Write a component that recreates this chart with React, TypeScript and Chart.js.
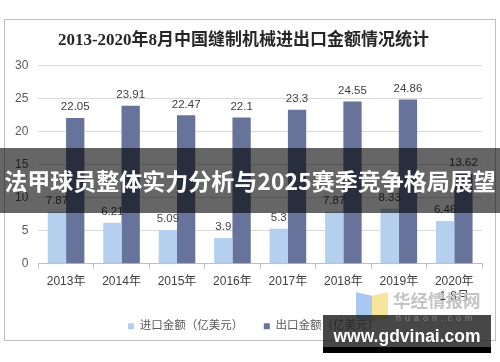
import React, { useEffect, useRef } from "react";
import { Chart, registerables } from "chart.js";

Chart.register(...registerables);

const titleText = "2013-2020年8月中国缝制机械进出口金额情况统计";
const categories: (string | string[])[] = ["2013年", "2014年", "2015年", "2016年", "2017年", "2018年", "2019年", ["2020年", "1-8月"]];
const importValues = [7.87, 6.21, 5.09, 3.9, 5.3, 7.87, 8.33, 6.46];
const exportValues = [22.05, 23.91, 22.47, 22.1, 23.3, 24.55, 24.86, 13.62];
const seriesNames = ["进口金额（亿美元）", "出口金额（亿美元）"];
const yTicks = [0, 5, 10, 15, 20, 25, 30];
const bannerText = "法甲球员整体实力分析与2025赛季竞争格局展望";

const FONT = "'Liberation Sans', 'Noto Sans CJK SC', sans-serif";

const valueLabels = {
  id: "valueLabels",
  afterDatasetsDraw(chart: any) {
    const ctx = chart.ctx;
    ctx.save();
    ctx.font = `11.5px ${FONT}`;
    ctx.fillStyle = "#404040";
    ctx.textAlign = "center";
    ctx.textBaseline = "bottom";
    chart.data.datasets.forEach((ds: any, i: number) => {
      const meta = chart.getDatasetMeta(i);
      meta.data.forEach((bar: any, j: number) => {
        ctx.fillText(String(ds.data[j]), bar.x, bar.y - 5);
      });
    });
    ctx.restore();
  },
};

const legendShift = {
  id: "legendShift",
  afterLayout(chart: any) {
    if (chart.legend) {
      chart.legend.left += 10;
      chart.legend.right += 10;
    }
  },
};

export default function App() {
  const ref = useRef<HTMLCanvasElement | null>(null);
  useEffect(() => {
    if (!ref.current) return;
    const chart = new Chart(ref.current, {
      type: "bar",
      data: {
        labels: categories,
        datasets: [
          { label: seriesNames[0], data: importValues, backgroundColor: "#B4D0EE", categoryPercentage: 0.66, barPercentage: 1 },
          { label: seriesNames[1], data: exportValues, backgroundColor: "#67739B", categoryPercentage: 0.66, barPercentage: 1 },
        ],
      },
      options: {
        animation: false,
        responsive: false,
        maintainAspectRatio: false,
        layout: { padding: { left: 0, right: 13, top: 0, bottom: 3 } },
        plugins: {
          title: {
            display: true,
            text: titleText,
            color: "#262626",
            font: { family: "'Liberation Serif', 'Noto Sans CJK SC', serif", size: 17, weight: "bold" },
            padding: { top: 10, bottom: 15 },
          },
          legend: {
            position: "bottom",
            labels: {
              boxWidth: 6,
              boxHeight: 6,
              color: "#595959",
              font: { family: FONT, size: 11.5 },
              padding: 11,
              generateLabels: (chart: any) =>
                chart.data.datasets.map((ds: any, i: number) => ({
                  text: i === 0 ? ds.label + "   " : ds.label,
                  fillStyle: ds.backgroundColor,
                  strokeStyle: ds.backgroundColor,
                  lineWidth: 0,
                  fontColor: "#595959",
                  hidden: false,
                  datasetIndex: i,
                })),
            },
          },
          tooltip: { enabled: false },
        },
        scales: {
          x: {
            grid: { display: true, drawOnChartArea: false, offset: true, color: "#bfbfbf", tickLength: 5 },
            border: { color: "#bfbfbf" },
            ticks: { color: "#404040", font: { family: FONT, size: 12 }, maxRotation: 0, autoSkip: false, padding: 6 },
          },
          y: {
            min: 0,
            max: 30,
            afterBuildTicks: (axis: any) => {
              axis.ticks = yTicks.map((v) => ({ value: v }));
            },
            grid: { color: "#d9d9d9", drawTicks: false },
            border: { display: false },
            ticks: { color: "#595959", font: { family: FONT, size: 12 }, padding: 10 },
          },
        },
      },
      plugins: [valueLabels, legendShift],
    });
    return () => chart.destroy();
  }, []);

  return (
    <div style={{ position: "fixed", left: 0, top: 0, width: 500, height: 362, background: "#fff", overflow: "hidden" }}>
      <div style={{ position: "absolute", left: 4, top: 19, width: 490, height: 320, border: "1px solid #bfbfbf" }} />
      <canvas ref={ref} width={490} height={325} style={{ position: "absolute", left: 5, top: 20, display: "block", width: 490, height: 325 }} />
      <div
        style={{
          position: "absolute",
          left: 0,
          top: 148,
          width: 500,
          height: 65,
          background: "rgba(0,0,0,0.6)",
          color: "#fff",
          fontFamily: "'Noto Sans CJK SC', sans-serif",
          fontWeight: 700,
          fontSize: 23,
          lineHeight: "65px",
          textAlign: "center",
          whiteSpace: "nowrap",
        }}
      >
        {bannerText}
      </div>
      <div style={{ position: "absolute", left: 356, top: 294, width: 16, height: 26, background: "#a9c8f0", transform: "skewY(12deg)" }} />
      <div style={{ position: "absolute", left: 372, top: 294, width: 16, height: 26, background: "#f7e59b", transform: "skewY(-12deg)" }} />
      <div style={{ position: "absolute", left: 393, top: 288, color: "#c4c4c4", fontFamily: "'Noto Sans CJK SC', sans-serif", fontWeight: 700, fontSize: 17.5, lineHeight: "24px", whiteSpace: "nowrap" }}>
        华经情报网
      </div>
      <div style={{ position: "absolute", left: 323, top: 315, width: 168, height: 32, background: "rgba(30,30,30,0.82)" }} />
      <div style={{ position: "absolute", left: 323, top: 347, width: 168, height: 6, background: "#000" }} />
      <div style={{ position: "absolute", left: 396, top: 313, color: "rgba(200,200,200,0.45)", fontFamily: FONT, fontSize: 9, letterSpacing: 4, whiteSpace: "nowrap" }}>
        huaon.com
      </div>
      <div style={{ position: "absolute", left: 323, top: 323, width: 168, textAlign: "center", color: "#fff", fontFamily: "'Liberation Sans', sans-serif", fontWeight: 700, fontSize: 17.5, lineHeight: "26px", whiteSpace: "nowrap" }}>
        www.gdvinai.com
      </div>
    </div>
  );
}
